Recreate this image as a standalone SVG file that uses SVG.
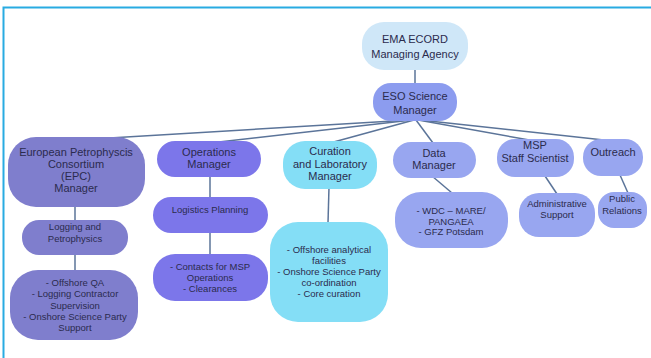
<svg xmlns="http://www.w3.org/2000/svg" width="651" height="358" viewBox="0 0 651 358">
<style>
.t{font-family:"Liberation Sans",Arial,sans-serif;fill:#2b2b4d;text-anchor:middle}
.h{font-size:11px}
.s{font-size:9.5px}
.c line{stroke:#5b7499;stroke-width:1.5}
.ema{fill:#cfe7f8}
.eso{fill:#8c9cef}
.epc{fill:#7f7ecd}
.ops{fill:#7c76ea}
.cur{fill:#84def6}
.per{fill:#98a6f0}
</style>
<rect width="651" height="358" fill="#ffffff"/>
<path d="M3.5 358 V7.5 H651" fill="none" stroke="#29abe2" stroke-width="2"/>
<g class="c" id="connectors">
<line x1="415" y1="70" x2="415" y2="84"/>
<line x1="410" y1="120" x2="76" y2="140"/>
<line x1="412" y1="120" x2="210" y2="143"/>
<line x1="414" y1="120" x2="330" y2="143"/>
<line x1="416" y1="120" x2="433" y2="143"/>
<line x1="418" y1="120" x2="535" y2="141"/>
<line x1="420" y1="120" x2="613" y2="141"/>
<line x1="75" y1="206" x2="75" y2="221"/>
<line x1="75" y1="254" x2="75" y2="271"/>
<line x1="210" y1="176" x2="210" y2="198"/>
<line x1="210" y1="232" x2="210" y2="255"/>
<line x1="329" y1="187" x2="328" y2="223"/>
<line x1="432" y1="176" x2="452" y2="193"/>
<line x1="545" y1="176" x2="557" y2="194"/>
<line x1="620" y1="175" x2="628" y2="193"/>
</g>
<g id="ema"><rect class="ema" x="362" y="22" width="106" height="48" rx="22"/>
<text class="t h" x="415" y="43">EMA ECORD</text><text class="t h" x="415" y="58">Managing Agency</text></g>
<g id="eso"><rect class="eso" x="373" y="83" width="84" height="38" rx="18"/>
<text class="t h" x="415" y="100">ESO Science</text><text class="t h" x="415" y="114">Manager</text></g>
<g id="epc"><rect class="epc" x="8" y="137" width="137" height="70" rx="28"/>
<text class="t h" x="76" y="156">European Petrophyscis</text><text class="t h" x="76" y="168">Consortium</text><text class="t h" x="76" y="180">(EPC)</text><text class="t h" x="76" y="192">Manager</text></g>
<g id="logging"><rect class="epc" x="22" y="220" width="106" height="35" rx="17"/>
<text class="t s" x="75" y="229.5">Logging and</text><text class="t s" x="75" y="241.5">Petrophysics</text></g>
<g id="epc-tasks"><rect class="epc" x="10" y="270" width="128" height="70" rx="28"/>
<text class="t s" x="75" y="285.5">- Offshore QA</text><text class="t s" x="75" y="297">- Logging Contractor</text><text class="t s" x="75" y="308.5">Supervision</text><text class="t s" x="75" y="320">- Onshore Science Party</text><text class="t s" x="75" y="331">Support</text></g>
<g id="ops"><rect class="ops" x="157" y="141" width="104" height="36" rx="18"/>
<text class="t h" x="209" y="156">Operations</text><text class="t h" x="209" y="168">Manager</text></g>
<g id="logistics"><rect class="ops" x="153" y="197" width="115" height="36" rx="18"/>
<text class="t s" x="210" y="213">Logistics Planning</text></g>
<g id="contacts"><rect class="ops" x="153" y="254" width="115" height="47" rx="22"/>
<text class="t s" x="210" y="269.5">- Contacts for MSP</text><text class="t s" x="210" y="280.5">Operations</text><text class="t s" x="210" y="291.5">- Clearances</text></g>
<g id="curation"><rect class="cur" x="283" y="141" width="94" height="48" rx="22"/>
<text class="t h" x="330" y="155">Curation</text><text class="t h" x="330" y="167.5">and Laboratory</text><text class="t h" x="330" y="180">Manager</text></g>
<g id="curation-tasks"><rect class="cur" x="270" y="222" width="118" height="100" rx="28"/>
<text class="t s" x="329" y="252.5">- Offshore analytical</text><text class="t s" x="329" y="264">facilities</text><text class="t s" x="329" y="275">- Onshore Science Party</text><text class="t s" x="329" y="286">co-ordination</text><text class="t s" x="329" y="297">- Core curation</text></g>
<g id="data"><rect class="per" x="393" y="142" width="83" height="36" rx="18"/>
<text class="t h" x="434" y="157">Data</text><text class="t h" x="434" y="169">Manager</text></g>
<g id="wdc"><rect class="per" x="395" y="192" width="113" height="56" rx="26"/>
<text class="t s" x="451" y="213.5">- WDC – MARE/</text><text class="t s" x="451" y="224.5">PANGAEA</text><text class="t s" x="451" y="235">- GFZ Potsdam</text></g>
<g id="msp"><rect class="per" x="497" y="139" width="77" height="38" rx="18"/>
<text class="t h" x="535" y="149">MSP</text><text class="t h" x="535" y="162">Staff Scientist</text></g>
<g id="admin"><rect class="per" x="519" y="193" width="76" height="44" rx="20"/>
<text class="t s" x="557" y="206.5">Administrative</text><text class="t s" x="557" y="218">Support</text></g>
<g id="outreach"><rect class="per" x="583" y="139" width="60" height="37" rx="18"/>
<text class="t h" x="613" y="156">Outreach</text></g>
<g id="pr"><rect class="per" x="598" y="192" width="49" height="36" rx="16"/>
<text class="t s" x="622" y="202">Public</text><text class="t s" x="622" y="213.5">Relations</text></g>
</svg>
